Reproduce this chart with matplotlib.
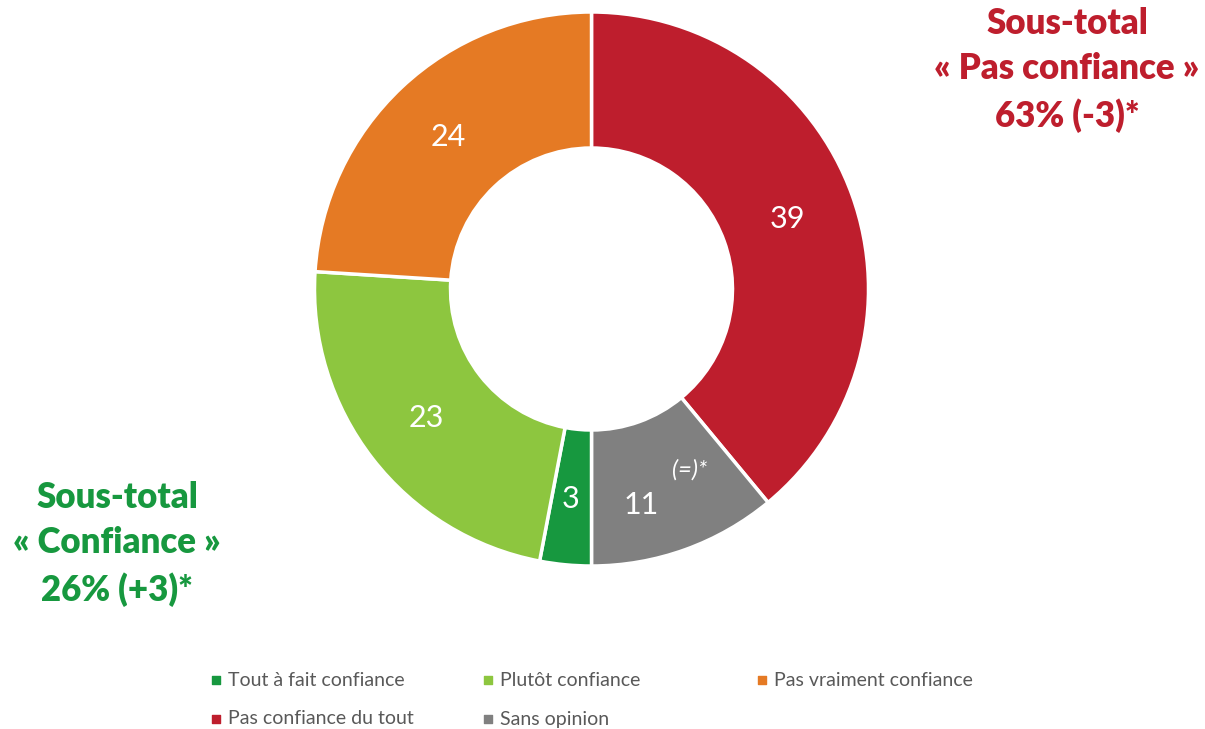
import matplotlib.pyplot as plt

plt.rcParams['font.family'] = ['Lato', 'DejaVu Sans']

# données
categories = ["Pas confiance du tout", "Sans opinion", "Tout à fait confiance",
              "Plutôt confiance", "Pas vraiment confiance"]
values = [39, 11, 3, 23, 24]
colors = ["#BE1E2D", "#808080", "#17983F", "#8DC63F", "#E57A24"]
legend_order = ["Tout à fait confiance", "Plutôt confiance", "Pas vraiment confiance",
                "Pas confiance du tout", "Sans opinion"]
label_pos = [(787, 219), (641, 505), (571, 499), (426, 418), (448, 137)]

W, H = 1205, 729
fig = plt.figure(figsize=(W / 100, H / 100), dpi=100)
ax = fig.add_axes([0, 0, 1, 1])
ax.set_xlim(0, W)
ax.set_ylim(0, H)
ax.set_aspect('equal')
ax.axis('off')

cx, cy = 591.5, H - 289
wedges, _ = ax.pie(values, colors=colors, startangle=90, counterclock=False,
                   center=(cx, cy), radius=277,
                   wedgeprops=dict(width=136, edgecolor='white', linewidth=2.5))
ax.set_xlim(0, W)
ax.set_ylim(0, H)

for v, (x, y) in zip(values, label_pos):
    ax.text(x, H - y, str(v), color='white', fontsize=22, ha='center', va='center')
ax.text(690, H - 470, "(=)*", color='white', fontsize=17, style='italic',
        ha='center', va='center')

# sous-totaux
ax.text(1067, H - 70, "Sous-total\n« Pas confiance »\n63% (-3)*", color="#BE1E2D",
        fontsize=25, fontweight='heavy', ha='center', va='center', linespacing=1.45)
ax.text(117, H - 544, "Sous-total\n« Confiance »\n26% (+3)*", color="#17983F",
        fontsize=25, fontweight='heavy', ha='center', va='center', linespacing=1.45)

# légende
leg_xy = [(216, 680), (488, 680), (762, 680), (216, 719), (488, 719)]
for name, (x, y) in zip(legend_order, leg_xy):
    c = colors[categories.index(name)]
    ax.scatter([x], [H - y], marker='s', s=40, color=c)
    ax.text(x + 12, H - y, name, color='#595959', fontsize=14, ha='left', va='center')

fig.savefig("out.png", dpi=100)
